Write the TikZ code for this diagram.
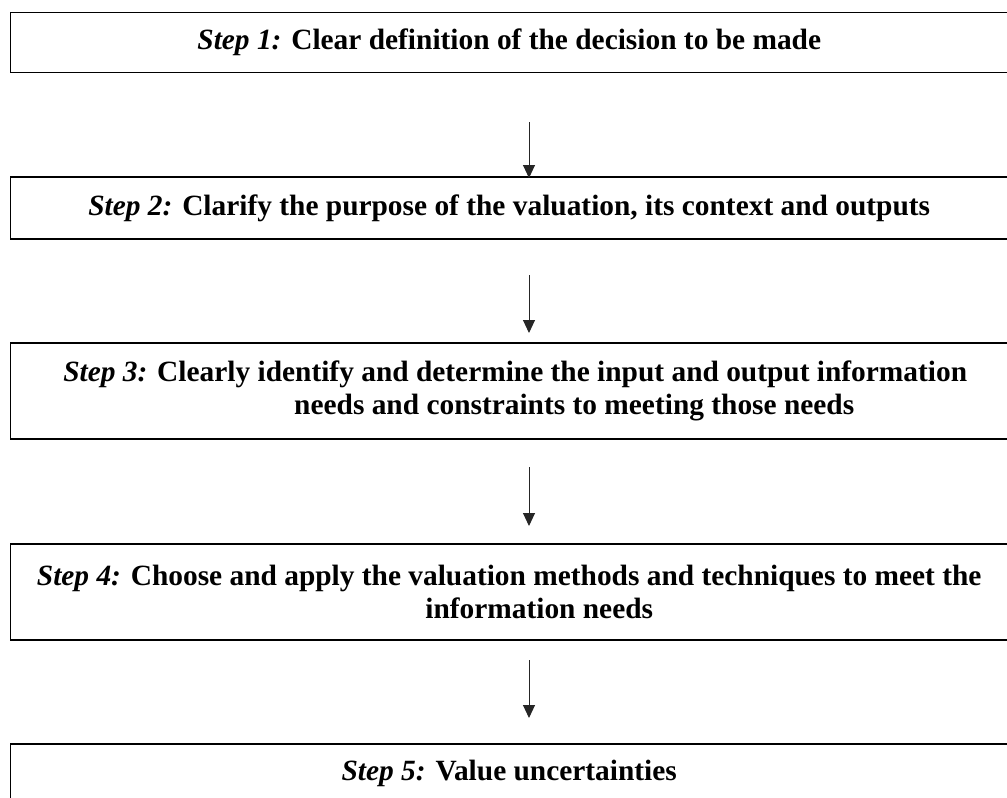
\documentclass[tikz,border=0pt]{standalone}
\usepackage{fontspec}
\setmainfont{Liberation Serif}
\usetikzlibrary{arrows.meta}
\tikzset{
  stepbox/.style={draw=black, line width=1.2bp, minimum width=997.5bp, align=center, inner sep=0pt, font=\fontsize{29.5}{33.5}\selectfont\bfseries},
  flow/.style={draw=black!85, line width=1bp, -{Triangle[width=12bp,length=13bp]}}
}
\newcommand{\stp}[1]{\textit{Step #1:}}
\begin{document}
\begin{tikzpicture}[x=1bp,y=-1bp]
\useasboundingbox (0,0) rectangle (1007,798);
\node[stepbox, minimum height=60bp] (s1) at (509.25,42.5) {\stp{1} Clear definition of the decision to be made};
\node[stepbox, minimum height=62bp] (s2) at (509.25,208) {\stp{2} Clarify the purpose of the valuation, its context and outputs};
\node[stepbox, minimum height=96bp] (s3) at (509.25,391) {\hspace*{12bp}\stp{3} Clearly identify and determine the input and output information\\ \hspace*{130bp}needs and constraints to meeting those needs};
\node[stepbox, minimum height=96bp] (s4) at (509.25,592) {\stp{4} Choose and apply the valuation methods and techniques to meet the\\ \hspace*{60bp}information needs};
\node[stepbox, minimum height=58bp] (s5) at (509.25,773) {\stp{5} Value uncertainties};
\coordinate (a1s) at (529,122);
\coordinate (a1e) at (529,178);
\coordinate (a2s) at (529,275);
\coordinate (a2e) at (529,333);
\coordinate (a3s) at (529,467);
\coordinate (a3e) at (529,526);
\coordinate (a4s) at (529,660);
\coordinate (a4e) at (529,718);
\draw[flow] (a1s) -- (a1e);
\draw[flow] (a2s) -- (a2e);
\draw[flow] (a3s) -- (a3e);
\draw[flow] (a4s) -- (a4e);
\end{tikzpicture}
\end{document}
